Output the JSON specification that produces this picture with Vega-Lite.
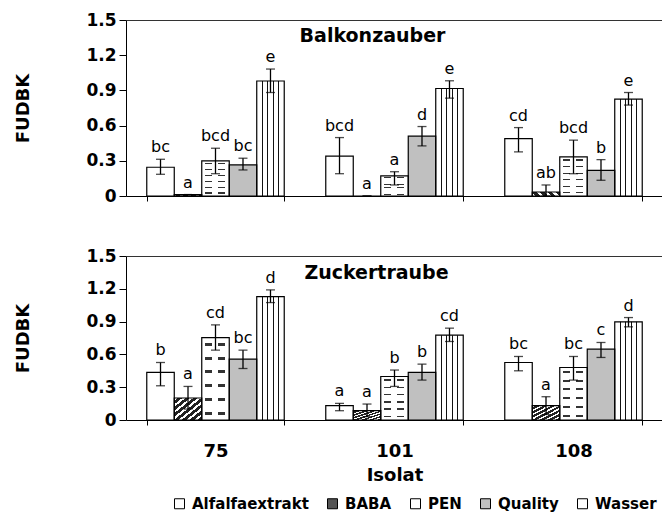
{
  "$schema": "https://vega.github.io/schema/vega-lite/v6.json",
  "padding": {"left": 14, "top": 11, "right": 0, "bottom": 0},
  "config": {
    "font": "DejaVu Sans",
    "view": {"stroke": null},
    "title": {"font": "DejaVu Sans", "fontWeight": "bold", "fontSize": 19, "color": "black", "anchor": "middle"}
  },
  "datasets": {
    "d": [
      {"sorte": "Balkonzauber", "isolat": "75", "treatment": "Alfalfaextrakt", "value": 0.245, "lo": 0.185, "hi": 0.313, "letter": "bc"},
      {"sorte": "Balkonzauber", "isolat": "75", "treatment": "BABA", "value": 0.012, "lo": 0.012, "hi": 0.012, "letter": "a"},
      {"sorte": "Balkonzauber", "isolat": "75", "treatment": "PEN", "value": 0.3, "lo": 0.19, "hi": 0.407, "letter": "bcd"},
      {"sorte": "Balkonzauber", "isolat": "75", "treatment": "Quality", "value": 0.265, "lo": 0.222, "hi": 0.322, "letter": "bc"},
      {"sorte": "Balkonzauber", "isolat": "75", "treatment": "Wasser", "value": 0.98, "lo": 0.882, "hi": 1.082, "letter": "e"},
      {"sorte": "Balkonzauber", "isolat": "101", "treatment": "Alfalfaextrakt", "value": 0.34, "lo": 0.19, "hi": 0.498, "letter": "bcd"},
      {"sorte": "Balkonzauber", "isolat": "101", "treatment": "BABA", "value": 0, "lo": 0, "hi": 0, "letter": "a"},
      {"sorte": "Balkonzauber", "isolat": "101", "treatment": "PEN", "value": 0.171, "lo": 0.094, "hi": 0.207, "letter": "a"},
      {"sorte": "Balkonzauber", "isolat": "101", "treatment": "Quality", "value": 0.51, "lo": 0.427, "hi": 0.592, "letter": "d"},
      {"sorte": "Balkonzauber", "isolat": "101", "treatment": "Wasser", "value": 0.916, "lo": 0.834, "hi": 0.982, "letter": "e"},
      {"sorte": "Balkonzauber", "isolat": "108", "treatment": "Alfalfaextrakt", "value": 0.489, "lo": 0.376, "hi": 0.583, "letter": "cd"},
      {"sorte": "Balkonzauber", "isolat": "108", "treatment": "BABA", "value": 0.034, "lo": 0.0, "hi": 0.094, "letter": "ab"},
      {"sorte": "Balkonzauber", "isolat": "108", "treatment": "PEN", "value": 0.333, "lo": 0.19, "hi": 0.476, "letter": "bcd"},
      {"sorte": "Balkonzauber", "isolat": "108", "treatment": "Quality", "value": 0.219, "lo": 0.134, "hi": 0.31, "letter": "b"},
      {"sorte": "Balkonzauber", "isolat": "108", "treatment": "Wasser", "value": 0.826, "lo": 0.775, "hi": 0.882, "letter": "e"},
      {"sorte": "Zuckertraube", "isolat": "75", "treatment": "Alfalfaextrakt", "value": 0.435, "lo": 0.313, "hi": 0.526, "letter": "b"},
      {"sorte": "Zuckertraube", "isolat": "75", "treatment": "BABA", "value": 0.201, "lo": 0.1, "hi": 0.307, "letter": "a"},
      {"sorte": "Zuckertraube", "isolat": "75", "treatment": "PEN", "value": 0.754, "lo": 0.639, "hi": 0.87, "letter": "cd"},
      {"sorte": "Zuckertraube", "isolat": "75", "treatment": "Quality", "value": 0.557, "lo": 0.471, "hi": 0.639, "letter": "bc"},
      {"sorte": "Zuckertraube", "isolat": "75", "treatment": "Wasser", "value": 1.129, "lo": 1.074, "hi": 1.19, "letter": "d"},
      {"sorte": "Zuckertraube", "isolat": "101", "treatment": "Alfalfaextrakt", "value": 0.131, "lo": 0.085, "hi": 0.152, "letter": "a"},
      {"sorte": "Zuckertraube", "isolat": "101", "treatment": "BABA", "value": 0.085, "lo": 0.03, "hi": 0.146, "letter": "a"},
      {"sorte": "Zuckertraube", "isolat": "101", "treatment": "PEN", "value": 0.398, "lo": 0.307, "hi": 0.457, "letter": "b"},
      {"sorte": "Zuckertraube", "isolat": "101", "treatment": "Quality", "value": 0.435, "lo": 0.365, "hi": 0.511, "letter": "b"},
      {"sorte": "Zuckertraube", "isolat": "101", "treatment": "Wasser", "value": 0.776, "lo": 0.718, "hi": 0.84, "letter": "cd"},
      {"sorte": "Zuckertraube", "isolat": "108", "treatment": "Alfalfaextrakt", "value": 0.526, "lo": 0.45, "hi": 0.581, "letter": "bc"},
      {"sorte": "Zuckertraube", "isolat": "108", "treatment": "BABA", "value": 0.131, "lo": 0.05, "hi": 0.213, "letter": "a"},
      {"sorte": "Zuckertraube", "isolat": "108", "treatment": "PEN", "value": 0.48, "lo": 0.365, "hi": 0.581, "letter": "bc"},
      {"sorte": "Zuckertraube", "isolat": "108", "treatment": "Quality", "value": 0.648, "lo": 0.572, "hi": 0.709, "letter": "c"},
      {"sorte": "Zuckertraube", "isolat": "108", "treatment": "Wasser", "value": 0.898, "lo": 0.852, "hi": 0.937, "letter": "d"}
    ]
  },
  "data": {"name": "d"},
  "spacing": 43,
  "resolve": {"scale": {"fill": "shared"}},
  "vconcat": [
    {
      "width": 537,
      "height": 176,
      "title": {"text": "Balkonzauber", "offset": -35, "dx": -22},
      "transform": [{"filter": "datum.sorte === 'Balkonzauber'"}],
      "encoding": {
        "x": {"field": "isolat", "type": "nominal", "sort": ["75", "101", "108"],
              "scale": {"paddingInner": 0.232, "paddingOuter": 0.116},
              "axis": {"labels": false, "title": null, "tickBand": "extent", "tickSize": 5, "tickColor": "black", "domainColor": "black"}},
        "xOffset": {"field": "treatment", "type": "nominal", "sort": ["Alfalfaextrakt", "BABA", "PEN", "Quality", "Wasser"],
                    "scale": {"paddingInner": 0, "paddingOuter": 0}},
        "y": {"field": "value", "type": "quantitative",
              "scale": {"domain": [0, 1.5], "nice": false},
              "axis": {"title": "FUDBK", "values": [0, 0.3, 0.6, 0.9, 1.2, 1.5], "grid": true, "gridColor": "#333333",
                       "gridOpacity": {"condition": {"test": "datum.value == 1.5", "value": 1}, "value": 0},
                       "labelExpr": "datum.value == 0 ? '0' : format(datum.value, '.1f')",
                       "labelFont": "DejaVu Sans", "labelFontWeight": "bold", "labelFontSize": 17, "labelColor": "black",
                       "labelPadding": 3, "tickSize": 7, "tickColor": "black", "domainColor": "black",
                       "titleFont": "DejaVu Sans", "titleFontWeight": "bold", "titleFontSize": 18, "titleColor": "black", "titlePadding": 53}}
      },
      "layer": [
        {"mark": {"type": "bar"},
         "encoding": {"fill": {"field": "treatment", "type": "nominal",
            "scale": {"domain": ["Alfalfaextrakt", "BABA", "PEN", "Quality", "Wasser"], "range": ["#ffffff", "#555555", "#ffffff", "#c0c0c0", "#ffffff"]},
            "legend": {"orient": "none", "legendX": 46, "legendY": 476, "direction": "horizontal", "title": null, "symbolType": "square", "symbolSize": 100,
                       "symbolStrokeColor": "black", "symbolStrokeWidth": 1, "symbolOpacity": 1, "labelFont": "DejaVu Sans", "labelFontWeight": "bold",
                       "labelFontSize": 15, "labelColor": "black", "columnPadding": 16, "labelOffset": 5}}}},
        {"transform": [{"filter": "datum.treatment === 'BABA'"}],
         "mark": {"type": "bar", "fill": {"gradient": "linear", "x1": 0, "y1": 0, "x2": 1, "y2": 1, "stops": [
           {"offset": 0, "color": "#ffffff"}, {"offset": 0.06, "color": "#ffffff"}, {"offset": 0.06, "color": "#222222"}, {"offset": 0.1429, "color": "#222222"},
           {"offset": 0.1429, "color": "#ffffff"}, {"offset": 0.2029, "color": "#ffffff"}, {"offset": 0.2029, "color": "#222222"}, {"offset": 0.2857, "color": "#222222"},
           {"offset": 0.2857, "color": "#ffffff"}, {"offset": 0.3457, "color": "#ffffff"}, {"offset": 0.3457, "color": "#222222"}, {"offset": 0.4286, "color": "#222222"},
           {"offset": 0.4286, "color": "#ffffff"}, {"offset": 0.4886, "color": "#ffffff"}, {"offset": 0.4886, "color": "#222222"}, {"offset": 0.5714, "color": "#222222"},
           {"offset": 0.5714, "color": "#ffffff"}, {"offset": 0.6314, "color": "#ffffff"}, {"offset": 0.6314, "color": "#222222"}, {"offset": 0.7143, "color": "#222222"},
           {"offset": 0.7143, "color": "#ffffff"}, {"offset": 0.7743, "color": "#ffffff"}, {"offset": 0.7743, "color": "#222222"}, {"offset": 0.8571, "color": "#222222"},
           {"offset": 0.8571, "color": "#ffffff"}, {"offset": 0.9171, "color": "#ffffff"}, {"offset": 0.9171, "color": "#222222"}, {"offset": 1, "color": "#222222"}]}}},
        {"transform": [{"filter": "datum.treatment === 'PEN'"}],
         "mark": {"type": "bar", "fill": {"gradient": "linear", "x1": 0, "y1": 0, "x2": 0, "y2": 1, "stops": [
           {"offset": 0, "color": "#ffffff"}, {"offset": 0.065, "color": "#ffffff"}, {"offset": 0.065, "color": "#333333"}, {"offset": 0.101, "color": "#333333"},
           {"offset": 0.101, "color": "#ffffff"}, {"offset": 0.232, "color": "#ffffff"}, {"offset": 0.232, "color": "#333333"}, {"offset": 0.268, "color": "#333333"},
           {"offset": 0.268, "color": "#ffffff"}, {"offset": 0.399, "color": "#ffffff"}, {"offset": 0.399, "color": "#333333"}, {"offset": 0.435, "color": "#333333"},
           {"offset": 0.435, "color": "#ffffff"}, {"offset": 0.565, "color": "#ffffff"}, {"offset": 0.565, "color": "#333333"}, {"offset": 0.601, "color": "#333333"},
           {"offset": 0.601, "color": "#ffffff"}, {"offset": 0.732, "color": "#ffffff"}, {"offset": 0.732, "color": "#333333"}, {"offset": 0.768, "color": "#333333"},
           {"offset": 0.768, "color": "#ffffff"}, {"offset": 0.899, "color": "#ffffff"}, {"offset": 0.899, "color": "#333333"}, {"offset": 0.935, "color": "#333333"},
           {"offset": 0.935, "color": "#ffffff"}, {"offset": 1, "color": "#ffffff"}]}}},
        {"transform": [{"filter": "datum.treatment === 'PEN'"}],
         "mark": {"type": "bar", "fill": {"gradient": "linear", "x1": 0, "y1": 0, "x2": 1, "y2": 0, "stops": [
           {"offset": 0, "color": "#ffffff"}, {"offset": 0.12, "color": "#ffffff"}, {"offset": 0.12, "color": "rgba(255,255,255,0)"}, {"offset": 0.38, "color": "rgba(255,255,255,0)"},
           {"offset": 0.38, "color": "#ffffff"}, {"offset": 0.6, "color": "#ffffff"}, {"offset": 0.6, "color": "rgba(255,255,255,0)"}, {"offset": 0.86, "color": "rgba(255,255,255,0)"},
           {"offset": 0.86, "color": "#ffffff"}, {"offset": 1, "color": "#ffffff"}]}}},
        {"transform": [{"filter": "datum.treatment === 'Wasser'"}],
         "mark": {"type": "bar", "fill": {"gradient": "linear", "x1": 0, "y1": 0, "x2": 1, "y2": 0, "stops": [
           {"offset": 0, "color": "#ffffff"}, {"offset": 0.18, "color": "#ffffff"}, {"offset": 0.18, "color": "#111111"}, {"offset": 0.225, "color": "#111111"},
           {"offset": 0.225, "color": "#ffffff"}, {"offset": 0.38, "color": "#ffffff"}, {"offset": 0.38, "color": "#111111"}, {"offset": 0.425, "color": "#111111"},
           {"offset": 0.425, "color": "#ffffff"}, {"offset": 0.58, "color": "#ffffff"}, {"offset": 0.58, "color": "#111111"}, {"offset": 0.625, "color": "#111111"},
           {"offset": 0.625, "color": "#ffffff"}, {"offset": 0.78, "color": "#ffffff"}, {"offset": 0.78, "color": "#111111"}, {"offset": 0.825, "color": "#111111"},
           {"offset": 0.825, "color": "#ffffff"}, {"offset": 1, "color": "#ffffff"}]}}},
        {"mark": {"type": "bar", "fillOpacity": 0, "stroke": "black", "strokeWidth": 1.2}},
        {"mark": {"type": "rule", "color": "black", "strokeWidth": 1.3},
         "encoding": {"y": {"field": "lo", "type": "quantitative"}, "y2": {"field": "hi"}}},
        {"mark": {"type": "tick", "orient": "horizontal", "color": "black", "size": 9, "thickness": 1.3},
         "encoding": {"y": {"field": "lo", "type": "quantitative"}}},
        {"mark": {"type": "tick", "orient": "horizontal", "color": "black", "size": 9, "thickness": 1.3},
         "encoding": {"y": {"field": "hi", "type": "quantitative"}}},
        {"mark": {"type": "text", "baseline": "alphabetic", "dy": -7, "fontSize": 16, "font": "DejaVu Sans", "color": "black"},
         "encoding": {"y": {"field": "hi", "type": "quantitative"}, "text": {"field": "letter"}}}
      ]
    },
    {
      "width": 537,
      "height": 164,
      "title": {"text": "Zuckertraube", "offset": -36, "dx": -18},
      "transform": [{"filter": "datum.sorte === 'Zuckertraube'"}],
      "encoding": {
        "x": {"field": "isolat", "type": "nominal", "sort": ["75", "101", "108"],
              "scale": {"paddingInner": 0.232, "paddingOuter": 0.116},
              "axis": {"labelAngle": 0, "title": "Isolat", "tickBand": "extent", "tickSize": 5, "tickColor": "black", "domainColor": "black",
                       "labelFont": "DejaVu Sans", "labelFontWeight": "bold", "labelFontSize": 18, "labelColor": "black", "labelPadding": 17,
                       "titleFont": "DejaVu Sans", "titleFontWeight": "bold", "titleFontSize": 18, "titleColor": "black", "titlePadding": 6}},
        "xOffset": {"field": "treatment", "type": "nominal", "sort": ["Alfalfaextrakt", "BABA", "PEN", "Quality", "Wasser"],
                    "scale": {"paddingInner": 0, "paddingOuter": 0}},
        "y": {"field": "value", "type": "quantitative",
              "scale": {"domain": [0, 1.5], "nice": false},
              "axis": {"title": "FUDBK", "values": [0, 0.3, 0.6, 0.9, 1.2, 1.5], "grid": true, "gridColor": "#333333",
                       "gridOpacity": {"condition": {"test": "datum.value == 1.5", "value": 1}, "value": 0},
                       "labelExpr": "datum.value == 0 ? '0' : format(datum.value, '.1f')",
                       "labelFont": "DejaVu Sans", "labelFontWeight": "bold", "labelFontSize": 17, "labelColor": "black",
                       "labelPadding": 3, "tickSize": 7, "tickColor": "black", "domainColor": "black",
                       "titleFont": "DejaVu Sans", "titleFontWeight": "bold", "titleFontSize": 18, "titleColor": "black", "titlePadding": 53}}
      },
      "layer": [
        {"mark": {"type": "bar"},
         "encoding": {"fill": {"field": "treatment", "type": "nominal",
            "scale": {"domain": ["Alfalfaextrakt", "BABA", "PEN", "Quality", "Wasser"], "range": ["#ffffff", "#555555", "#ffffff", "#c0c0c0", "#ffffff"]},
            "legend": {"orient": "none", "legendX": 46, "legendY": 476, "direction": "horizontal", "title": null, "symbolType": "square", "symbolSize": 100,
                       "symbolStrokeColor": "black", "symbolStrokeWidth": 1, "symbolOpacity": 1, "labelFont": "DejaVu Sans", "labelFontWeight": "bold",
                       "labelFontSize": 15, "labelColor": "black", "columnPadding": 16, "labelOffset": 5}}}},
        {"transform": [{"filter": "datum.treatment === 'BABA'"}],
         "mark": {"type": "bar", "fill": {"gradient": "linear", "x1": 0, "y1": 0, "x2": 1, "y2": 1, "stops": [
           {"offset": 0, "color": "#ffffff"}, {"offset": 0.06, "color": "#ffffff"}, {"offset": 0.06, "color": "#222222"}, {"offset": 0.1429, "color": "#222222"},
           {"offset": 0.1429, "color": "#ffffff"}, {"offset": 0.2029, "color": "#ffffff"}, {"offset": 0.2029, "color": "#222222"}, {"offset": 0.2857, "color": "#222222"},
           {"offset": 0.2857, "color": "#ffffff"}, {"offset": 0.3457, "color": "#ffffff"}, {"offset": 0.3457, "color": "#222222"}, {"offset": 0.4286, "color": "#222222"},
           {"offset": 0.4286, "color": "#ffffff"}, {"offset": 0.4886, "color": "#ffffff"}, {"offset": 0.4886, "color": "#222222"}, {"offset": 0.5714, "color": "#222222"},
           {"offset": 0.5714, "color": "#ffffff"}, {"offset": 0.6314, "color": "#ffffff"}, {"offset": 0.6314, "color": "#222222"}, {"offset": 0.7143, "color": "#222222"},
           {"offset": 0.7143, "color": "#ffffff"}, {"offset": 0.7743, "color": "#ffffff"}, {"offset": 0.7743, "color": "#222222"}, {"offset": 0.8571, "color": "#222222"},
           {"offset": 0.8571, "color": "#ffffff"}, {"offset": 0.9171, "color": "#ffffff"}, {"offset": 0.9171, "color": "#222222"}, {"offset": 1, "color": "#222222"}]}}},
        {"transform": [{"filter": "datum.treatment === 'PEN'"}],
         "mark": {"type": "bar", "fill": {"gradient": "linear", "x1": 0, "y1": 0, "x2": 0, "y2": 1, "stops": [
           {"offset": 0, "color": "#ffffff"}, {"offset": 0.065, "color": "#ffffff"}, {"offset": 0.065, "color": "#333333"}, {"offset": 0.101, "color": "#333333"},
           {"offset": 0.101, "color": "#ffffff"}, {"offset": 0.232, "color": "#ffffff"}, {"offset": 0.232, "color": "#333333"}, {"offset": 0.268, "color": "#333333"},
           {"offset": 0.268, "color": "#ffffff"}, {"offset": 0.399, "color": "#ffffff"}, {"offset": 0.399, "color": "#333333"}, {"offset": 0.435, "color": "#333333"},
           {"offset": 0.435, "color": "#ffffff"}, {"offset": 0.565, "color": "#ffffff"}, {"offset": 0.565, "color": "#333333"}, {"offset": 0.601, "color": "#333333"},
           {"offset": 0.601, "color": "#ffffff"}, {"offset": 0.732, "color": "#ffffff"}, {"offset": 0.732, "color": "#333333"}, {"offset": 0.768, "color": "#333333"},
           {"offset": 0.768, "color": "#ffffff"}, {"offset": 0.899, "color": "#ffffff"}, {"offset": 0.899, "color": "#333333"}, {"offset": 0.935, "color": "#333333"},
           {"offset": 0.935, "color": "#ffffff"}, {"offset": 1, "color": "#ffffff"}]}}},
        {"transform": [{"filter": "datum.treatment === 'PEN'"}],
         "mark": {"type": "bar", "fill": {"gradient": "linear", "x1": 0, "y1": 0, "x2": 1, "y2": 0, "stops": [
           {"offset": 0, "color": "#ffffff"}, {"offset": 0.12, "color": "#ffffff"}, {"offset": 0.12, "color": "rgba(255,255,255,0)"}, {"offset": 0.38, "color": "rgba(255,255,255,0)"},
           {"offset": 0.38, "color": "#ffffff"}, {"offset": 0.6, "color": "#ffffff"}, {"offset": 0.6, "color": "rgba(255,255,255,0)"}, {"offset": 0.86, "color": "rgba(255,255,255,0)"},
           {"offset": 0.86, "color": "#ffffff"}, {"offset": 1, "color": "#ffffff"}]}}},
        {"transform": [{"filter": "datum.treatment === 'Wasser'"}],
         "mark": {"type": "bar", "fill": {"gradient": "linear", "x1": 0, "y1": 0, "x2": 1, "y2": 0, "stops": [
           {"offset": 0, "color": "#ffffff"}, {"offset": 0.18, "color": "#ffffff"}, {"offset": 0.18, "color": "#111111"}, {"offset": 0.225, "color": "#111111"},
           {"offset": 0.225, "color": "#ffffff"}, {"offset": 0.38, "color": "#ffffff"}, {"offset": 0.38, "color": "#111111"}, {"offset": 0.425, "color": "#111111"},
           {"offset": 0.425, "color": "#ffffff"}, {"offset": 0.58, "color": "#ffffff"}, {"offset": 0.58, "color": "#111111"}, {"offset": 0.625, "color": "#111111"},
           {"offset": 0.625, "color": "#ffffff"}, {"offset": 0.78, "color": "#ffffff"}, {"offset": 0.78, "color": "#111111"}, {"offset": 0.825, "color": "#111111"},
           {"offset": 0.825, "color": "#ffffff"}, {"offset": 1, "color": "#ffffff"}]}}},
        {"mark": {"type": "bar", "fillOpacity": 0, "stroke": "black", "strokeWidth": 1.2}},
        {"mark": {"type": "rule", "color": "black", "strokeWidth": 1.3},
         "encoding": {"y": {"field": "lo", "type": "quantitative"}, "y2": {"field": "hi"}}},
        {"mark": {"type": "tick", "orient": "horizontal", "color": "black", "size": 9, "thickness": 1.3},
         "encoding": {"y": {"field": "lo", "type": "quantitative"}}},
        {"mark": {"type": "tick", "orient": "horizontal", "color": "black", "size": 9, "thickness": 1.3},
         "encoding": {"y": {"field": "hi", "type": "quantitative"}}},
        {"mark": {"type": "text", "baseline": "alphabetic", "dy": -7, "fontSize": 16, "font": "DejaVu Sans", "color": "black"},
         "encoding": {"y": {"field": "hi", "type": "quantitative"}, "text": {"field": "letter"}}}
      ]
    }
  ]
}
